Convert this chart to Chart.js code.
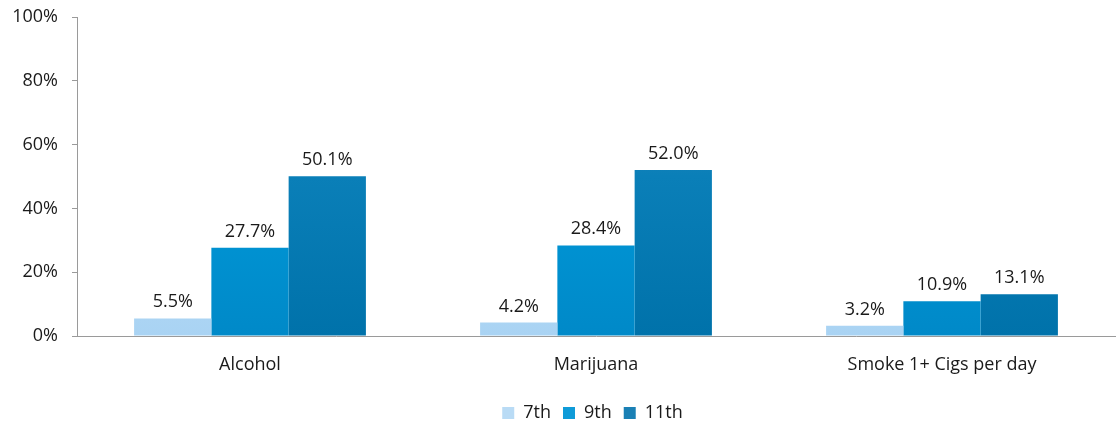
<!DOCTYPE html>
<html><head><meta charset="utf-8">
<script src="https://cdn.jsdelivr.net/npm/chart.js@4"></script>
<style>html,body{margin:0;padding:0;background:#fff}#wrap{width:1117px;height:423px}</style>
</head><body><div id="wrap"><canvas id="c" width="1117" height="423"></canvas></div>
<script>
const categories = ["Alcohol", "Marijuana", "Smoke 1+ Cigs per day"];
const grade7 = [5.5, 4.2, 3.2];
const grade9 = [27.7, 28.4, 10.9];
const grade11 = [50.1, 52.0, 13.1];
const seriesNames = ["7th", "9th", "11th"];
const yTicks = [0, 20, 40, 60, 80, 100];

const FONT = "'Open Sans', 'DejaVu Sans', sans-serif";
const gradStops = [
  ["#cfe6f8", "#a9d3f3"],
  ["#45a9dc", "#0098d8", "#0089c8"],
  ["#4692c2", "#0a7fb8", "#0072aa"]
];
function grad(i){
  return function(ctx){
    const ch = ctx.chart; const a = ch.chartArea;
    if(!a) return gradStops[i][1];
    const el = ctx.element;
    let top = a.top, bot = a.bottom;
    if (el && el.y !== undefined && el.base !== undefined) { top = el.y; bot = el.base; }
    if (!(bot > top)) return gradStops[i][1];
    const g = ch.ctx.createLinearGradient(0, top, 0, bot);
    const s = gradStops[i];
    s.forEach((c, k) => g.addColorStop(k/(s.length-1), c));
    return g;
  };
}
const legendColors = ["#b9dbf5", "#0f9bd8", "#1a80b5"];

const labelPlugin = {
  id: 'vals',
  afterLayout(chart){
    const L = chart.legend;
    if (L) { L.left += 70; if (L.adjustHitBoxes) L.adjustHitBoxes(); }
  },
  afterDatasetsDraw(chart){
    const ctx = chart.ctx;
    ctx.save();
    ctx.font = "18px " + FONT;
    ctx.fillStyle = "#1a1a1a";
    ctx.textAlign = "center";
    ctx.textBaseline = "alphabetic";
    chart.data.datasets.forEach((ds, di) => {
      chart.getDatasetMeta(di).data.forEach((bar, i) => {
        ctx.fillText(ds.data[i].toFixed(1) + "%", bar.x, bar.y - 11);
      });
    });
    ctx.restore();
  }
};

const data = [grade7, grade9, grade11];
new Chart(document.getElementById('c'), {
  type: 'bar',
  data: {
    labels: categories,
    datasets: seriesNames.map((n, i) => ({
      label: n, data: data[i],
      backgroundColor: grad(i),
      borderWidth: 0,
      categoryPercentage: 0.67, barPercentage: 1.0
    }))
  },
  options: {
    responsive: false, animation: false,
    layout: { padding: { left: 0, right: 2, top: 17, bottom: -9 } },
    plugins: {
      legend: {
        position: 'bottom',
        labels: {
          font: { family: FONT, size: 18 }, color: '#1a1a1a',
          boxWidth: 12, boxHeight: 12, padding: 12,
          generateLabels(chart){
            return seriesNames.map((n, i) => ({ text: n, fillStyle: legendColors[i], strokeStyle: legendColors[i], lineWidth: 0, datasetIndex: i, fontColor: '#1a1a1a' }));
          }
        }
      },
      tooltip: { enabled: false }
    },
    scales: {
      x: {
        afterFit(s){ s.height = 56; s.paddingLeft = 0; s.paddingRight = 0; },
        grid: { display: false, drawTicks: false },
        border: { color: '#9a9a9a', width: 1 },
        ticks: { font: { family: FONT, size: 18 }, color: '#1a1a1a', padding: 18 }
      },
      y: {
        min: 0, max: 100,
        afterBuildTicks(s){ s.ticks = yTicks.map(v => ({ value: v })); },
        afterFit(s){ s.width = 77; s.paddingTop = 0; s.paddingBottom = 0; },
        grid: { display: true, drawOnChartArea: false, drawTicks: true, tickLength: 5, color: '#9a9a9a' },
        border: { color: '#9a9a9a', width: 1 },
        ticks: { font: { family: FONT, size: 18 }, color: '#1a1a1a', padding: 14, callback: v => v + '%' }
      }
    }
  },
  plugins: [labelPlugin]
});
</script></body></html>
